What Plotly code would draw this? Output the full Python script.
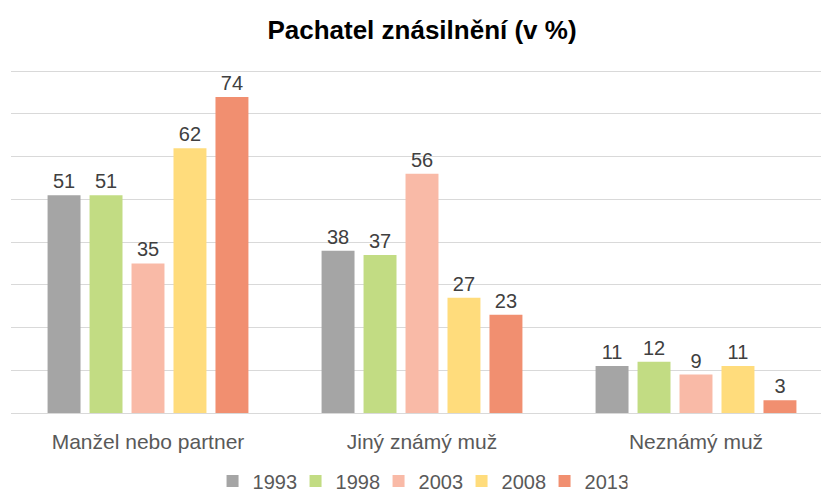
import plotly.graph_objects as go

categories = ["Manžel nebo partner", "Jiný známý muž", "Neznámý muž"]
years = ["1993", "1998", "2003", "2008", "2013"]
v1993 = [51, 38, 11]
v1998 = [51, 37, 12]
v2003 = [35, 56, 9]
v2008 = [62, 27, 11]
v2013 = [74, 23, 3]
series = [v1993, v1998, v2003, v2008, v2013]
colors = ["#A5A5A5", "#C2DC83", "#F9BAA7", "#FFDC7C", "#F18F70"]
grid_values = [0, 10, 20, 30, 40, 50, 60, 70, 80]

FONT = "Liberation Sans, Arial, sans-serif"

fig = go.Figure()
for name, vals, col in zip(years, series, colors):
    fig.add_trace(go.Bar(
        x=categories, y=vals, name=name,
        marker=dict(color=col, line=dict(width=0)),
        text=vals, textposition="outside", cliponaxis=False,
        textfont=dict(size=20, color="#404040", family=FONT),
    ))

fig.update_layout(
    width=821, height=492,
    margin=dict(l=11, r=0, t=67, b=79),
    paper_bgcolor="white", plot_bgcolor="white",
    barmode="group", bargap=0.234, bargroupgap=0.215,
    font=dict(family=FONT, color="#595959"),
    title=dict(text="<b>Pachatel znásilnění (v %)</b>", x=0.514, xanchor="center",
               y=1 - 30 / 492, yanchor="middle",
               font=dict(size=26, color="#000000", family=FONT)),
    showlegend=True,
    legend=dict(orientation="h", x=0.505, xanchor="center", yref="container",
                y=(492 - 481) / 492, yanchor="middle", entrywidth=38,
                font=dict(size=20, color="#595959"), traceorder="normal"),
)
fig.update_xaxes(range=[-0.5, -0.5 + 810 / 274], showgrid=False, showline=False,
                 zeroline=False, tickfont=dict(size=21, color="#595959"),
                 ticks="", ticklabelstandoff=14)
fig.update_yaxes(range=[0, 81], tickvals=grid_values,
                 showgrid=True, gridcolor="#D9D9D9",
                 gridwidth=1, showticklabels=False, zeroline=True,
                 zerolinecolor="#D9D9D9", zerolinewidth=1, showline=False)

fig.write_html("out.html", config={"displayModeBar": False},
               post_script="document.body.style.margin='0';document.body.style.padding='0';")
